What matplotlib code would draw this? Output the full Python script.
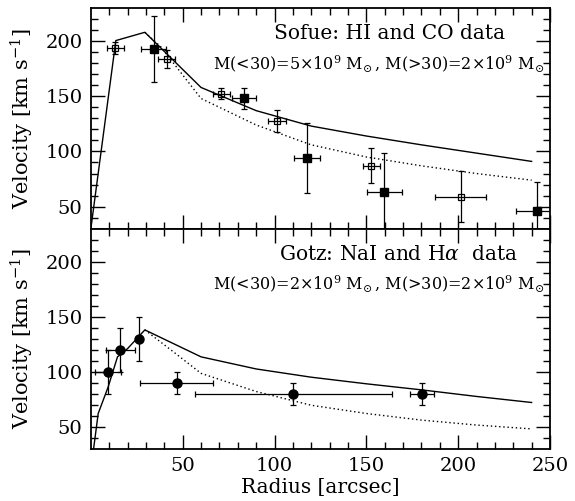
import numpy as np
import matplotlib
matplotlib.use("Agg")
import matplotlib.pyplot as plt

plt.rcParams["font.family"] = "DejaVu Serif"
plt.rcParams["mathtext.fontset"] = "dejavuserif"

# Sofue: HI and CO data (open and filled squares)
sofue_open_r = [13.3, 41.3, 71.1, 101.6, 152.7, 201.4]
sofue_open_v = [194, 184, 152.5, 128, 87, 59]
sofue_open_rerr = [4.7, 4.7, 4.6, 4.9, 4.5, 14]
sofue_open_verr = [5.5, 8, 5, 10, 16, 23]

sofue_fill_r = [34.2, 83.4, 117.6, 159.8, 243.2]
sofue_fill_v = [193, 148, 94, 63, 46]
sofue_fill_rerr = [6.7, 6.6, 7, 9.5, 11.6]
sofue_fill_verr = [30, 9.5, 32, 36, 26]

# model curves, top panel
top_model_r = [0, 13.6, 29.4, 60, 90, 120, 150, 180, 210, 240]
top_model_v = [30, 200.5, 208, 158, 137, 123, 114, 106, 98.5, 91]
top_dot_r = [29.4, 38, 60, 90, 120, 150, 180, 210, 240]
top_dot_v = [208, 195, 148, 124, 106, 95, 87, 80, 74]

# Gotz: NaI and Halpha data
gotz_r = [9.4, 16, 26.3, 46.7, 110.3, 180.5]
gotz_v = [100, 120, 130, 90, 80, 80]
gotz_rerr = [7, 7.8, 0, 20, 53.6, 6.6]
gotz_verr = [20, 20, 20, 10, 10, 10]

bot_model_r = [1.5, 4, 9.4, 14.5, 20, 29.4, 60, 90, 120, 150, 180, 210, 240]
bot_model_v = [30, 62, 86, 113.5, 121, 138, 113.5, 102.5, 95, 89, 83.5, 77.5, 72]
bot_dot_r = [29.4, 45, 60, 90, 120, 150, 180, 210, 240]
bot_dot_v = [138, 118, 98.5, 82, 69.5, 62, 56, 51.5, 48]

fig = plt.figure(figsize=(5.75, 5.01), dpi=100)
ax1 = fig.add_axes([0.158, 0.5435, 0.7985, 0.4405])
ax2 = fig.add_axes([0.158, 0.1044, 0.7985, 0.4391])

for ax in (ax1, ax2):
    ax.set_xlim(0, 250)
    ax.set_ylim(30, 230)
    ax.set_xticks([50, 100, 150, 200, 250])
    ax.set_xticks(np.arange(10, 250, 10), minor=True)
    ax.set_yticks([50, 100, 150, 200])
    ax.set_yticks(np.arange(40, 230, 10), minor=True)
    ax.tick_params(which="both", direction="in", top=True, right=True,
                   width=1, labelsize=14)
    ax.tick_params(which="major", length=10, pad=6)
    ax.tick_params(which="minor", length=5)
    for s in ax.spines.values():
        s.set_linewidth(1.3)
    ax.set_ylabel("Velocity [km s$^{-1}$]", fontsize=15, labelpad=7)

ax1.tick_params(labelbottom=False)

# top panel
ax1.plot(top_model_r, top_model_v, color="black", lw=1)
ax1.plot(top_dot_r, top_dot_v, color="black", lw=1, ls=(0, (1, 2)))
ax1.errorbar(sofue_open_r, sofue_open_v, xerr=sofue_open_rerr, yerr=sofue_open_verr,
             fmt="s", ms=4.5, mfc="none", mec="black", mew=0.9, ecolor="black",
             elinewidth=0.9, capsize=2.5, capthick=0.9)
ax1.errorbar(sofue_fill_r, sofue_fill_v, xerr=sofue_fill_rerr, yerr=sofue_fill_verr,
             fmt="s", ms=5.5, color="black", elinewidth=0.9, capsize=2.5, capthick=0.9)
ax1.text(0.902, 0.885, "Sofue: HI and CO data", transform=ax1.transAxes,
         ha="right", va="center", fontsize=14.5)
ax1.text(0.988, 0.745, r"M(<30)=5$\times$10$^9$ M$_{\!\odot}$, M(>30)=2$\times$10$^9$ M$_{\!\odot}$",
         transform=ax1.transAxes, ha="right", va="center", fontsize=11.5)

# bottom panel
ax2.plot(bot_model_r, bot_model_v, color="black", lw=1)
ax2.plot(bot_dot_r, bot_dot_v, color="black", lw=1, ls=(0, (1, 2)))
ax2.errorbar(gotz_r, gotz_v, xerr=gotz_rerr, yerr=gotz_verr,
             fmt="o", ms=6.5, color="black", elinewidth=0.9, capsize=2.5, capthick=0.9)
ax2.text(0.93, 0.885, r"Gotz: NaI and H$\alpha$  data", transform=ax2.transAxes,
         ha="right", va="center", fontsize=14.5)
ax2.text(0.988, 0.745, r"M(<30)=2$\times$10$^9$ M$_{\!\odot}$, M(>30)=2$\times$10$^9$ M$_{\!\odot}$",
         transform=ax2.transAxes, ha="right", va="center", fontsize=11.5)
ax2.set_xlabel("Radius [arcsec]", fontsize=14.5, labelpad=2)

fig.savefig("out.png", dpi=100)
